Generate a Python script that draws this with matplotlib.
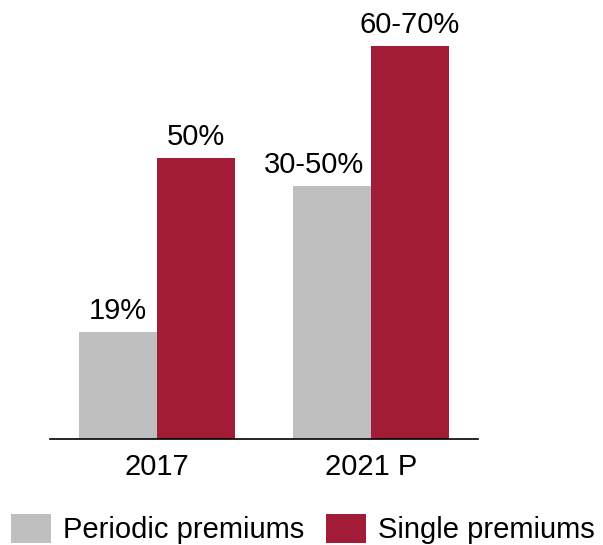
import numpy as np
import matplotlib.pyplot as plt

plt.rcParams['font.family'] = ['Liberation Sans', 'DejaVu Sans']

years = ['2017', '2021 P']
periodic = [19, 45]
single = [50, 70]
periodic_labels = ['19%', '30-50%']
single_labels = ['50%', '60-70%']

gray = '#BFBFBF'
red = '#A21C37'
fs = 21

fig = plt.figure(figsize=(6.03, 5.45), dpi=100)
ax = fig.add_axes([50 / 603, 1 - 439 / 545, 428 / 603, (439 - 46) / 545])

x = np.arange(len(years))
w = 0.365
b1 = ax.bar(x - w / 2, periodic, w, color=gray, label='Periodic premiums')
b2 = ax.bar(x + w / 2, single, w, color=red, label='Single premiums')

# the wide "30-50%" label sits a bit to the left so it clears the red bar
shifts = {'30-50%': -13}
for bars, labels in [(b1, periodic_labels), (b2, single_labels)]:
    for bar, lab in zip(bars, labels):
        ax.annotate(lab, (bar.get_x() + bar.get_width() / 2, bar.get_height()),
                    xytext=(shifts.get(lab, 0), 5), textcoords='offset points',
                    ha='center', va='bottom', fontsize=fs)

ax.set_xlim(-0.5, 1.5)
ax.set_ylim(0, 70)
ax.set_xticks(x)
ax.set_xticklabels(years, fontsize=fs)
ax.tick_params(axis='x', length=0, pad=10)
ax.set_yticks([])
for s in ['top', 'right', 'left']:
    ax.spines[s].set_visible(False)
ax.spines['bottom'].set_linewidth(1.2)

fig.legend(loc='center left', bbox_to_anchor=(0.018, 0.029), ncol=2, frameon=False,
           fontsize=fs, handlelength=1.37, handleheight=1.13, handletextpad=0.42,
           columnspacing=0.75, borderpad=0, borderaxespad=0)

fig.savefig('out.png', dpi=100)
